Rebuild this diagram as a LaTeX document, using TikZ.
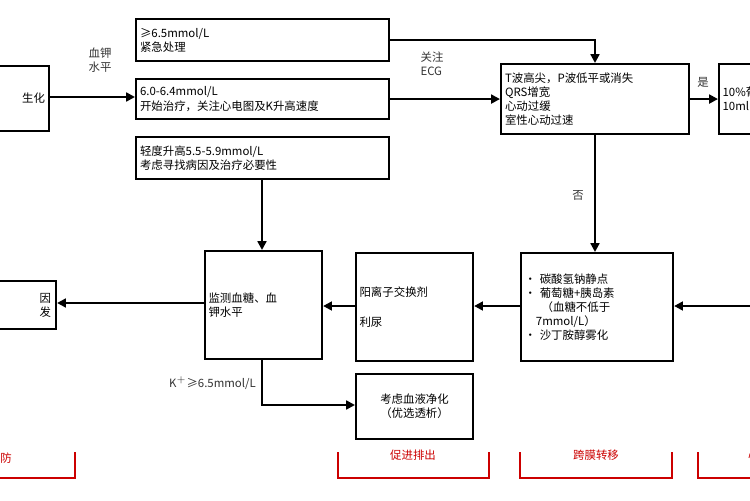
\documentclass[tikz,border=0pt]{standalone}
\usepackage{fontspec}
\setmainfont{Noto Sans CJK SC}
\usetikzlibrary{positioning}
\usetikzlibrary{arrows.meta}

\tikzset{
  stepbox/.style={draw=black,line width=1.2pt,rectangle,anchor=north west,align=left,inner sep=2pt,font=\fontsize{6.5}{8}\selectfont},
  flow/.style={draw=black,line width=1.3pt,-{Triangle[length=5pt,width=5pt]}},
  lbl/.style={font=\fontsize{6.5}{8}\selectfont,text=black!80,align=left},
  brace/.style={draw=red!80!black,line width=1pt},
  bracetxt/.style={font=\fontsize{6.5}{8}\selectfont,text=red!80!black}
}

\begin{document}
\begin{tikzpicture}[x=0.02cm,y=-0.02cm]
\useasboundingbox[fill=white] (0,0) rectangle (750,500);
\node[stepbox,minimum width=2.16cm,minimum height=1.3cm,text width=2cm,align=right] (bio) at (-60,65) {生化};
\node[stepbox,minimum width=5.06cm,minimum height=0.84cm,text width=4.9cm] (emerg) at (135,18) {≥6.5mmol/L\\紧急处理};
\node[stepbox,minimum width=5.06cm,minimum height=0.8cm,text width=4.9cm] (start) at (135,78) {6.0-6.4mmol/L\\开始治疗，关注心电图及K升高速度};
\node[stepbox,minimum width=5.06cm,minimum height=0.84cm,text width=4.9cm] (mild) at (135,136) {轻度升高5.5-5.9mmol/L\\考虑寻找病因及治疗必要性};
\node[stepbox,minimum width=3.76cm,minimum height=1.4cm,text width=3.6cm,inner sep=1pt] (ecg) at (500,63) {T波高尖，P波低平或消失\\QRS增宽\\心动过缓\\室性心动过速};
\node[stepbox,minimum width=1.5cm,minimum height=1.4cm,text width=1.4cm] (calc) at (718,63) {10\%葡萄糖酸钙\\10ml};
\node[stepbox,minimum width=3.04cm,minimum height=2.16cm,text width=2.9cm] (shift) at (520,252) {\textbullet\ 碳酸氢钠静点\\\textbullet\ 葡萄糖+胰岛素\\\hspace*{1.5em}（血糖不低于\\\hspace*{1em}7mmol/L）\\\textbullet\ 沙丁胺醇雾化};
\node[stepbox,minimum width=2.32cm,minimum height=2.16cm,text width=2.2cm] (excr) at (355,252) {阳离子交换剂\\[9pt]利尿};
\node[stepbox,minimum width=2.32cm,minimum height=2.16cm,text width=2.2cm] (monit) at (204,250) {监测血糖、血\\钾水平};
\node[stepbox,minimum width=2.3cm,minimum height=0.96cm,text width=2.1cm,align=right] (cause) at (-60,280) {因\\发};
\node[stepbox,minimum width=2.32cm,minimum height=1.3cm,text width=2.2cm,align=center] (dial) at (355,373) {考虑血液净化\\（优选透析）};
\coordinate (inR) at (760,306);

\draw[flow] (bio.east |- 0,97) -- (start.west |- 0,97);
\node[lbl] at (100,60) {血钾\\水平};
\draw[flow] (emerg.east) -| (ecg.north -| 595,0);
\draw[flow] (start.east) -- (ecg.west |- start.east);
\node[lbl] at (432,64) {关注\\ECG};
\draw[flow] (ecg.east |- calc.west) -- (calc.west);
\node[lbl] at (703,82) {是};
\draw[flow] (ecg.south -| 595,0) -- (shift.north -| 595,0);
\node[lbl] at (578,195) {否};
\draw[flow] (inR) -- (shift.east |- inR);
\draw[flow] (shift.west |- 0,306) -- (excr.east |- 0,306);
\draw[flow] (excr.west |- 0,306) -- (monit.east |- 0,306);
\draw[flow] (mild.south -| 262,0) -- (monit.north -| 262,0);
\draw[flow] (monit.west |- 0,303) -- (cause.east |- 0,303);
\draw[flow] (monit.south -| 262,0) |- (dial.west |- 0,405);
\node[lbl,anchor=east] at (262,383) {K$^+$≥6.5mmol/L};

% red brackets
\draw[brace] (-10,478) -| (75,452);
\node[bracetxt,anchor=east] at (18,458) {防};
\draw[brace] (338,452) |- (489,478) -- (489,452);
\node[bracetxt] at (413,455) {促进排出};
\draw[brace] (520,452) |- (672,478) -- (672,452);
\node[bracetxt] at (596,455) {跨膜转移};
\draw[brace] (698,452) |- (760,478);
\node[bracetxt,anchor=west] at (742,455) {心};
\end{tikzpicture}
\end{document}
